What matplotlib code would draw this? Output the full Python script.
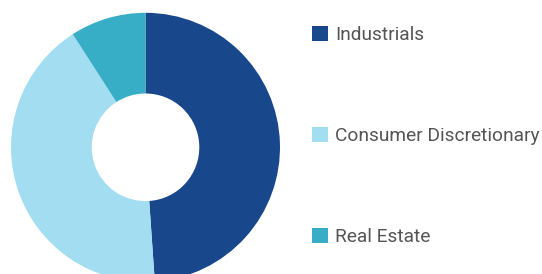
import matplotlib
matplotlib.use("Agg")
import matplotlib.pyplot as plt
from matplotlib.patches import Rectangle

categories = ["Industrials", "Consumer Discretionary", "Real Estate"]
values = [48.9, 42.0, 9.1]
colors = ["#19478c", "#a3ddf1", "#38aec6"]

W, H = 542, 274
fig = plt.figure(figsize=(W / 100, H / 100), dpi=100)
ax = fig.add_axes([0, 0, 1, 1])

cx, cy, R, r = 145.5, H - 147.3, 134.5, 53.8
ax.pie(values, colors=colors, startangle=90, counterclock=False,
       center=(cx, cy), radius=R, frame=True,
       wedgeprops=dict(width=R - r, linewidth=0))
ax.set_xlim(0, W)
ax.set_ylim(0, H)
ax.set_aspect("equal")
ax.axis("off")

legend_y = [33.5, 134.5, 235.5]
for cat, col, ly in zip(categories, colors, legend_y):
    ax.add_patch(Rectangle((312, H - ly - 7.5), 16, 15, color=col, lw=0))
    ax.text(335, H - ly - 1.5, cat, fontsize=13.75, family="Roboto", color="#555555",
            va="center", ha="left")

fig.savefig("out.png", dpi=100)
